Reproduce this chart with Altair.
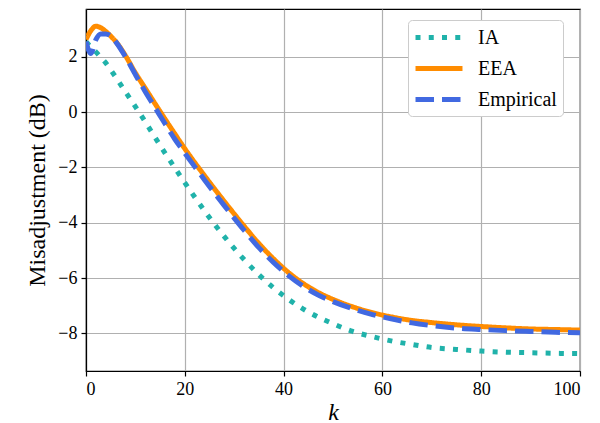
import altair as alt
import pandas as pd

k_vals = [0, 1, 2, 3, 4, 5, 6, 8, 10, 12, 14, 16, 18, 20, 22, 24, 26, 28, 30, 32, 35, 38,
          41, 44, 47, 50, 54, 58, 62, 66, 70, 75, 80, 85, 90, 95, 100]

ia = [2.55, 2.35, 2.18, 1.98, 1.78, 1.53, 1.27, 0.73, 0.20, -0.35, -0.92, -1.48, -2.02,
      -2.55, -3.07, -3.57, -4.05, -4.50, -4.93, -5.33, -5.88, -6.36, -6.77, -7.12, -7.41,
      -7.65, -7.93, -8.12, -8.28, -8.40, -8.51, -8.58, -8.64, -8.68, -8.70, -8.72, -8.73]

eea = [2.63, 2.95, 3.11, 3.05, 2.92, 2.75, 2.56, 2.04, 1.42, 0.86, 0.30, -0.25, -0.79,
       -1.32, -1.82, -2.30, -2.77, -3.23, -3.68, -4.12, -4.75, -5.31, -5.80, -6.20, -6.52,
       -6.77, -7.04, -7.25, -7.41, -7.53, -7.61, -7.69, -7.75, -7.80, -7.84, -7.86, -7.88]

emp = [2.55, 2.12, 2.62, 2.83, 2.83, 2.76, 2.55, 2.00, 1.36, 0.74, 0.16, -0.42, -0.98,
       -1.48, -1.97, -2.45, -2.92, -3.38, -3.83, -4.27, -4.90, -5.44, -5.91, -6.30, -6.61,
       -6.85, -7.11, -7.32, -7.48, -7.62, -7.72, -7.81, -7.86, -7.90, -7.93, -7.96, -7.98]

series_names = ["IA", "EEA", "Empirical"]
series_colors = ["#20B2AA", "#FF8C00", "#4169E1"]
series_dashes = [[5, 8.25], [1, 0], [18.5, 8]]

rows = []
for name, vals in zip(series_names, [ia, eea, emp]):
    for k, v in zip(k_vals, vals):
        rows.append({"k": k, "value": v, "series": name})
df = pd.DataFrame(rows)

FONT = "Liberation Serif"

chart = alt.Chart(df).mark_line(
    strokeWidth=5, strokeCap="butt", interpolate="monotone", clip=True
).encode(
    x=alt.X("k:Q", scale=alt.Scale(domain=[0, 100], nice=False),
            axis=alt.Axis(values=[0, 20, 40, 60, 80, 100], title="k",
                          titleFont=FONT, titleFontStyle="italic", titleFontSize=24,
                          titleFontWeight="normal", titlePadding=2)),
    y=alt.Y("value:Q", scale=alt.Scale(domain=[-9.36, 3.73], nice=False, zero=False),
            axis=alt.Axis(values=[-8, -6, -4, -2, 0, 2], title="Misadjustment (dB)",
                          titleFont=FONT, titleFontSize=24, titleFontWeight="normal",
                          titlePadding=8)),
    color=alt.Color("series:N", scale=alt.Scale(domain=series_names, range=series_colors),
                    title=None),
    strokeDash=alt.StrokeDash("series:N",
                              scale=alt.Scale(domain=series_names, range=series_dashes),
                              title=None),
    order=alt.Order("series:N"),
).properties(
    width=494, height=362,
    autosize=alt.AutoSizeParams(type="none"),
    padding={"left": 86, "top": 9, "right": 20, "bottom": 52},
).configure_view(
    stroke="black", strokeWidth=1.2
).configure_axis(
    labelFont=FONT, labelFontSize=18, labelColor="black",
    domainColor="black", domainWidth=1.2,
    tickColor="black", tickSize=5, tickWidth=1.2,
    gridColor="#b0b0b0", gridWidth=1.2, labelPadding=4,
    titleColor="black",
).configure_legend(
    orient="none", legendX=322, legendY=11,
    fillColor="white", strokeColor="#cccccc", cornerRadius=4,
    padding=6, rowPadding=9,
    symbolType="M-1.11,0H4.11", symbolSize=324, symbolStrokeWidth=5,
    labelFont=FONT, labelFontSize=20, labelColor="black", labelOffset=41,
    labelLimit=200,
)

chart.save("out.html", embed_options={"renderer": "svg", "actions": False})
